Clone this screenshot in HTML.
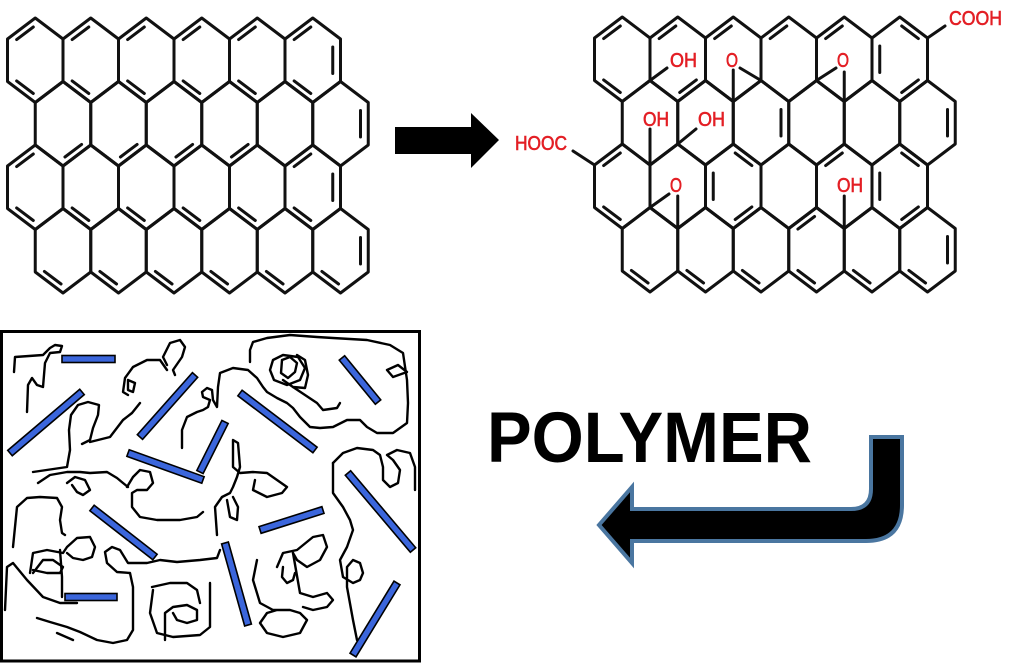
<!DOCTYPE html>
<html><head><meta charset="utf-8"><style>
html,body{margin:0;padding:0;background:#fff;}
svg{display:block;}
</style></head><body>
<svg width="1012" height="663" viewBox="0 0 1012 663" xmlns="http://www.w3.org/2000/svg">
<defs>
<path id="h" d="M0,0 L27.75,21 L27.75,63.5 L0,84.5 L-27.75,63.5 L-27.75,21 Z"/>
<path id="e0" d="M1.95,9 L18.6,21.6"/>
<path id="e1" d="M20,29 L20,55.5"/>
<path id="e2" d="M18.6,62.9 L1.95,75.5"/>
<path id="e3" d="M-1.95,75.5 L-18.6,62.9"/>
<path id="e4" d="M-20,29 L-20,55.5"/>
<path id="e5" d="M-18.6,21.6 L-1.95,9"/>
<g id="grid">
<use href="#h" x="35.25" y="18"/><use href="#h" x="90.75" y="18"/><use href="#h" x="146.25" y="18"/><use href="#h" x="201.75" y="18"/><use href="#h" x="257.25" y="18"/><use href="#h" x="312.75" y="18"/>
<use href="#h" x="63" y="81.5"/><use href="#h" x="118.5" y="81.5"/><use href="#h" x="174" y="81.5"/><use href="#h" x="229.5" y="81.5"/><use href="#h" x="285" y="81.5"/><use href="#h" x="340.5" y="81.5"/>
<use href="#h" x="35.25" y="145"/><use href="#h" x="90.75" y="145"/><use href="#h" x="146.25" y="145"/><use href="#h" x="201.75" y="145"/><use href="#h" x="257.25" y="145"/><use href="#h" x="312.75" y="145"/>
<use href="#h" x="63" y="208.5"/><use href="#h" x="118.5" y="208.5"/><use href="#h" x="174" y="208.5"/><use href="#h" x="229.5" y="208.5"/><use href="#h" x="285" y="208.5"/><use href="#h" x="340.5" y="208.5"/>
</g>
</defs>
<rect width="1012" height="663" fill="#fff"/>

<!-- Left graphene -->
<g fill="none" stroke="#111" stroke-width="3" stroke-linejoin="round" stroke-linecap="round">
<use href="#grid"/>
<use href="#e5" x="35.25" y="18"/><use href="#e3" x="35.25" y="18"/>
<use href="#e5" x="90.75" y="18"/><use href="#e3" x="90.75" y="18"/>
<use href="#e5" x="146.25" y="18"/><use href="#e3" x="146.25" y="18"/>
<use href="#e5" x="201.75" y="18"/><use href="#e3" x="201.75" y="18"/>
<use href="#e5" x="257.25" y="18"/><use href="#e3" x="257.25" y="18"/>
<use href="#e5" x="312.75" y="18"/><use href="#e3" x="312.75" y="18"/><use href="#e1" x="312.75" y="18"/>
<use href="#e2" x="63" y="81.5"/><use href="#e2" x="118.5" y="81.5"/><use href="#e2" x="174" y="81.5"/><use href="#e2" x="229.5" y="81.5"/><use href="#e1" x="340.5" y="81.5"/>
<use href="#e5" x="35.25" y="145"/><use href="#e3" x="35.25" y="145"/>
<use href="#e3" x="90.75" y="145"/><use href="#e3" x="146.25" y="145"/><use href="#e3" x="201.75" y="145"/><use href="#e3" x="257.25" y="145"/>
<use href="#e5" x="312.75" y="145"/><use href="#e3" x="312.75" y="145"/><use href="#e1" x="312.75" y="145"/>
<use href="#e3" x="63" y="208.5"/><use href="#e3" x="118.5" y="208.5"/><use href="#e3" x="174" y="208.5"/><use href="#e3" x="229.5" y="208.5"/><use href="#e3" x="285" y="208.5"/><use href="#e3" x="340.5" y="208.5"/><use href="#e1" x="340.5" y="208.5"/>
</g>

<!-- Right graphene oxide -->
<g fill="none" stroke="#111" stroke-width="3" stroke-linejoin="round" stroke-linecap="round" transform="translate(587,-1)">
<use href="#grid"/>
<use href="#e5" x="35.25" y="18"/><use href="#e3" x="35.25" y="18"/>
<use href="#e5" x="90.75" y="18"/><use href="#e2" x="90.75" y="18"/>
<use href="#e5" x="146.25" y="18"/>
<use href="#e5" x="201.75" y="18"/>
<use href="#e5" x="257.25" y="18"/>
<use href="#e4" x="312.75" y="18"/><use href="#e0" x="312.75" y="18"/><use href="#e2" x="312.75" y="18"/>
<use href="#e1" x="174" y="81.5"/><use href="#e1" x="340.5" y="81.5"/>
<use href="#e5" x="35.25" y="145"/><use href="#e3" x="35.25" y="145"/>
<use href="#e4" x="146.25" y="145"/><use href="#e0" x="146.25" y="145"/><use href="#e2" x="146.25" y="145"/>
<use href="#e5" x="257.25" y="145"/>
<use href="#e4" x="312.75" y="145"/><use href="#e0" x="312.75" y="145"/><use href="#e2" x="312.75" y="145"/>
<use href="#e3" x="63" y="208.5"/><use href="#e3" x="118.5" y="208.5"/><use href="#e3" x="174" y="208.5"/><use href="#e3" x="229.5" y="208.5"/><use href="#e5" x="229.5" y="208.5"/><use href="#e3" x="285" y="208.5"/><use href="#e3" x="340.5" y="208.5"/><use href="#e1" x="340.5" y="208.5"/>
</g>
<g fill="none" stroke="#111" stroke-width="3" stroke-linecap="round">
<path d="M650,80.5 L667,68"/>
<path d="M733.25,101.5 L733.25,70 M761,80.5 L740,68"/>
<path d="M844.25,101.5 L844.25,72 M816.5,80.5 L836,68"/>
<path d="M650,165 L650,129"/>
<path d="M677.75,144 L696,129"/>
<path d="M677.75,228.5 L677.75,196 M650,207.5 L669,194"/>
<path d="M844.25,228.5 L844.25,196"/>
<path d="M927.5,38 L945,26"/>
<path d="M594.5,165 L573,151"/>
</g>
<g font-family="Liberation Sans, Arial, sans-serif" font-size="20" fill="#e31e24" stroke="#e31e24" stroke-width="0.6">
<text x="670" y="67" textLength="27" lengthAdjust="spacingAndGlyphs">OH</text>
<text x="726" y="67" textLength="12" lengthAdjust="spacingAndGlyphs">O</text>
<text x="837" y="67" textLength="12" lengthAdjust="spacingAndGlyphs">O</text>
<text x="643" y="126" textLength="26" lengthAdjust="spacingAndGlyphs">OH</text>
<text x="698" y="126" textLength="27" lengthAdjust="spacingAndGlyphs">OH</text>
<text x="670" y="192" textLength="12" lengthAdjust="spacingAndGlyphs">O</text>
<text x="837" y="192" textLength="26" lengthAdjust="spacingAndGlyphs">OH</text>
<text x="949" y="25" textLength="53" lengthAdjust="spacingAndGlyphs">COOH</text>
<text x="515" y="150" textLength="52" lengthAdjust="spacingAndGlyphs">HOOC</text>
</g>

<polygon points="395,127 471,127 471,113 499,140 471,168 471,154 395,154" fill="#000"/>

<text x="487" y="462" font-family="Liberation Sans, Arial, sans-serif" font-weight="bold" font-size="71" fill="#000" textLength="325" lengthAdjust="spacingAndGlyphs">POLYMER</text>

<path d="M871,437 L902,437 L902,505 Q902,541 866,541 L632,541 L632,563 L599,525 L632,487 L632,509 L851,509 Q871,509 871,489 Z" fill="#000" stroke="#4a76a0" stroke-width="4" stroke-linejoin="miter"/>

<rect x="1.5" y="331.5" width="418" height="329.5" fill="#fff" stroke="#000" stroke-width="3"/>
<g fill="none" stroke="#000" stroke-width="2.4" stroke-linejoin="round" stroke-linecap="round">
<polyline points="14,372 15,357 43,355 50,348 55,345 62,346 60,352 50,353 45,363 43,387 37,385 32,378 28,385 27,412"/>
<polyline points="33,472 67,467 70,450 69,430 71,415 78,405 88,402 99,405 98,415 93,428 90,440 82,444"/>
<polyline points="90,442 110,437 123,420 132,413 140,403"/>
<polyline points="167,370 160,360 147,360 133,367 125,378 123,392 128,395"/>
<polyline points="128,380 135,383 133,392 128,390 128,380"/>
<polyline points="167,365 163,357 170,343 180,340 185,347 182,357 173,370 175,375"/>
<polyline points="182,448 182,430 187,417 197,412 203,410 208,407 210,400 203,397 202,392 207,388 212,390 213,400 217,407 218,387 220,373 233,368 248,370 257,378 263,387 267,392 277,398 287,403 293,408 300,417 310,427 320,428 333,427 347,420 360,420 367,427 377,433 393,433 407,423 408,403 407,380 403,353 390,345 367,340 333,338 317,337 290,335 267,338 253,342 250,350 250,362"/>
<polyline points="270,370 273,360 283,355 298,357 305,368 300,380 287,385 274,380 270,370"/>
<polyline points="282,360 290,357 297,363 295,372 288,378 281,373 282,360"/>
<polyline points="283,380 293,387 305,388 308,375 305,360 297,355"/>
<polyline points="293,387 317,403 323,410 337,408 340,403"/>
<polyline points="387,370 398,365 407,372 393,377 387,370"/>
<polyline points="13,547 17,507 27,498 40,497 57,498 62,507 60,520 62,533 65,535"/>
<polyline points="38,483 50,475 67,472 80,472 90,473 107,472 117,478 123,483 128,487"/>
<polyline points="67,483 75,477 85,480 90,490 83,495 77,492 72,485"/>
<polyline points="127,487 133,477 140,470 150,472 153,483 147,490 137,490 132,493 132,507 140,517 157,520 180,520 197,517 203,512"/>
<polyline points="217,535 215,507 222,497 230,493 233,487 237,477 240,467 238,443 233,440 233,467 240,473 253,472 267,473 277,480 287,487 282,493 267,497 253,490 255,480"/>
<polyline points="227,500 230,517 237,520 238,507 233,497"/>
<polyline points="333,463 343,453 357,448 373,450 380,455 383,467 383,480 390,487 398,483 400,470 393,460 387,455 397,450 410,453 415,467 415,490"/>
<polyline points="333,463 333,493 343,507 350,520 353,530 347,547 340,560 343,577 353,583 360,580 363,573 360,563 353,560 347,567 347,587 353,620 357,640"/>
<polyline points="5,610 7,567 13,563 27,580 43,597 60,603 77,603"/>
<polyline points="30,573 33,553 47,550 63,553 67,547 77,538 90,537 95,547 92,557 83,560 73,558 67,553"/>
<polyline points="33,573 43,560 53,560 63,567 60,573 47,573 33,570"/>
<polyline points="60,550 62,577 62,597"/>
<polyline points="37,618 50,622 67,627 80,632 97,640 113,643 127,640 133,630 133,587 130,573 117,572 107,563 105,552 112,547 120,550 128,563 147,563 160,560 177,562 200,560 217,558 220,550"/>
<polyline points="73,640 57,633"/>
<polyline points="165,640 165,613 173,607 187,605 197,610 197,620 187,623 177,620 173,613"/>
<polyline points="153,590 150,613 157,633 173,637 200,635 210,627 210,583"/>
<polyline points="152,587 170,583 187,583 197,590 200,603"/>
<polyline points="257,560 253,580 260,603 273,610 290,610 300,613 307,620 300,633 283,637 267,633 260,623 267,613 277,610"/>
<polyline points="277,567 283,553 297,550 313,537 323,535 327,547 320,560 307,567 297,560 293,553"/>
<polyline points="283,567 282,577 287,583 293,580 295,573"/>
<polyline points="293,553 300,593 313,597 327,593 333,600 327,607 313,610 303,607"/>
</g>
<g fill="#3b66dc" stroke="#000" stroke-width="1.6">
<rect x="-26.5" y="-3.5" width="53" height="7" transform="translate(88.5,359)"/>
<rect x="-47.2" y="-3.5" width="94.4" height="7" transform="translate(46,422.5) rotate(-40.3)"/>
<rect x="-41.5" y="-3.5" width="83" height="7" transform="translate(167.5,406) rotate(-48.4)"/>
<rect x="-28" y="-3.5" width="56" height="7" transform="translate(212.5,447) rotate(-63.4)"/>
<rect x="-39.8" y="-3.5" width="79.6" height="7" transform="translate(165.5,466.5) rotate(19.8)"/>
<rect x="-47.1" y="-3.5" width="94.2" height="7" transform="translate(277.5,421.5) rotate(37.2)"/>
<rect x="-28.5" y="-3.5" width="57" height="7" transform="translate(360,380) rotate(50.7)"/>
<rect x="-50.4" y="-3.5" width="100.8" height="7" transform="translate(380.5,511.5) rotate(49.8)"/>
<rect x="-33" y="-3.5" width="66" height="7" transform="translate(291.5,520) rotate(-17.6)"/>
<rect x="-39.9" y="-3.5" width="79.8" height="7" transform="translate(123.5,532.5) rotate(37.9)"/>
<rect x="-26" y="-3.5" width="52" height="7" transform="translate(91,597)"/>
<rect x="-42.6" y="-3.5" width="85.2" height="7" transform="translate(236.5,584) rotate(74.3)"/>
<rect x="-42.2" y="-3.5" width="84.4" height="7" transform="translate(375,619) rotate(-58.6)"/>
</g>
</svg>
</body></html>
